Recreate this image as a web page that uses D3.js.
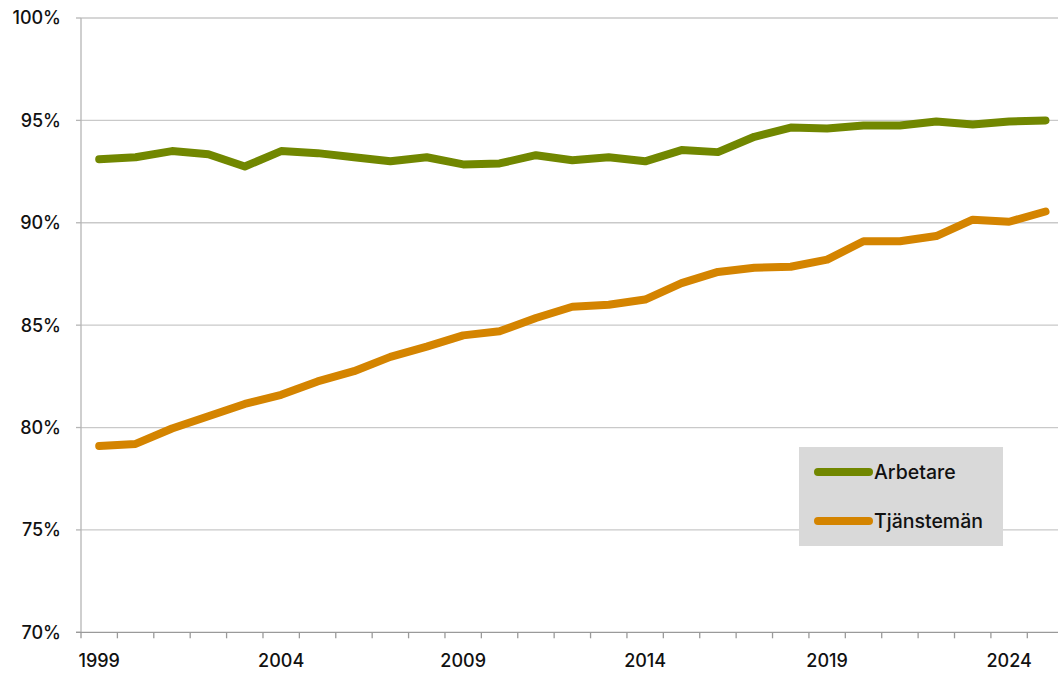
<!DOCTYPE html>
<html>
<head>
<meta charset="utf-8">
<script src="https://cdn.jsdelivr.net/npm/d3@7"></script>
<style>
html,body{margin:0;padding:0;background:#fff;}
svg text{font-family:Inter,"Liberation Sans",Arial,sans-serif;font-weight:500;fill:#111;}
</style>
</head>
<body>
<svg id="chart" width="1058" height="673"></svg>
<script>
const years = d3.range(1999, 2026);
const arbetare = [93.1,93.2,93.5,93.35,92.75,93.5,93.4,93.2,93.0,93.2,92.85,92.9,93.3,93.05,93.2,93.0,93.55,93.45,94.2,94.65,94.6,94.75,94.75,94.95,94.8,94.95,95.0];
const tjanstemannen = [79.1,79.2,79.95,80.55,81.15,81.6,82.25,82.75,83.45,83.95,84.5,84.7,85.35,85.9,86.0,86.25,87.05,87.6,87.8,87.85,88.2,89.1,89.1,89.35,90.15,90.05,90.55];
const yTicks = [70,75,80,85,90,95,100];
const seriesNames = ["Arbetare","Tjänstemän"];
const colors = ["#718700","#d48400"];

(function(){
const svg = d3.select("#chart");
const mLeft = 81, mTop = 18, mBottom = 632.3, mRight = 1063.7;
const x = d3.scaleBand().domain(years).range([mLeft, mRight]).padding(0);
const y = d3.scaleLinear().domain([70,100]).range([mBottom, mTop]);
const cx = d => x(d) + x.bandwidth()/2;

// gridlines
svg.append("g").selectAll("line").data(yTicks.filter(t => t > 70)).join("line")
  .attr("x1", mLeft).attr("x2", 1058)
  .attr("y1", d => y(d)).attr("y2", d => y(d))
  .attr("stroke", "#c9c9c9").attr("stroke-width", 1.3);

// y axis
svg.append("line").attr("x1", mLeft).attr("x2", mLeft).attr("y1", mTop).attr("y2", mBottom)
  .attr("stroke", "#b5b5b5").attr("stroke-width", 1.3);
svg.append("g").selectAll("line").data(yTicks).join("line")
  .attr("x1", mLeft-5).attr("x2", mLeft).attr("y1", d => y(d)).attr("y2", d => y(d))
  .attr("stroke", "#b5b5b5").attr("stroke-width", 1.3);
svg.append("g").selectAll("text").data(yTicks).join("text")
  .attr("x", 61).attr("y", d => y(d)).attr("dy", "0.36em")
  .attr("text-anchor", "end").attr("font-size", 18)
  .text(d => d + "%");

// x axis
svg.append("line").attr("x1", mLeft-5).attr("x2", 1058).attr("y1", mBottom).attr("y2", mBottom)
  .attr("stroke", "#9a9a9a").attr("stroke-width", 1.3);
svg.append("g").selectAll("line").data(years).join("line")
  .attr("x1", d => x(d)).attr("x2", d => x(d)).attr("y1", mBottom).attr("y2", mBottom+6)
  .attr("stroke", "#9a9a9a").attr("stroke-width", 1.3);
svg.append("g").selectAll("text").data(years.filter(d => (d-1999)%5===0)).join("text")
  .attr("x", d => cx(d)).attr("y", 667).attr("text-anchor", "middle").attr("font-size", 18)
  .text(d => d);

// lines
const line = d3.line().x((d,i) => cx(years[i])).y(d => y(d));
[arbetare, tjanstemannen].forEach((s, i) => {
  svg.append("path").datum(s).attr("d", line).attr("fill", "none")
    .attr("stroke", colors[i]).attr("stroke-width", 8)
    .attr("stroke-linejoin", "round").attr("stroke-linecap", "round");
});

// legend
const lg = svg.append("g");
lg.append("rect").attr("x", 799).attr("y", 447).attr("width", 204).attr("height", 99).attr("fill", "#d9d9d9");
seriesNames.forEach((n, i) => {
  const ly = 472 + i*49;
  lg.append("line").attr("x1", 818).attr("x2", 869).attr("y1", ly).attr("y2", ly)
    .attr("stroke", colors[i]).attr("stroke-width", 8).attr("stroke-linecap", "round");
  lg.append("text").attr("x", 874).attr("y", ly).attr("dy", "0.36em").attr("font-size", 19.5).text(n);
});
})();
</script>
</body>
</html>
